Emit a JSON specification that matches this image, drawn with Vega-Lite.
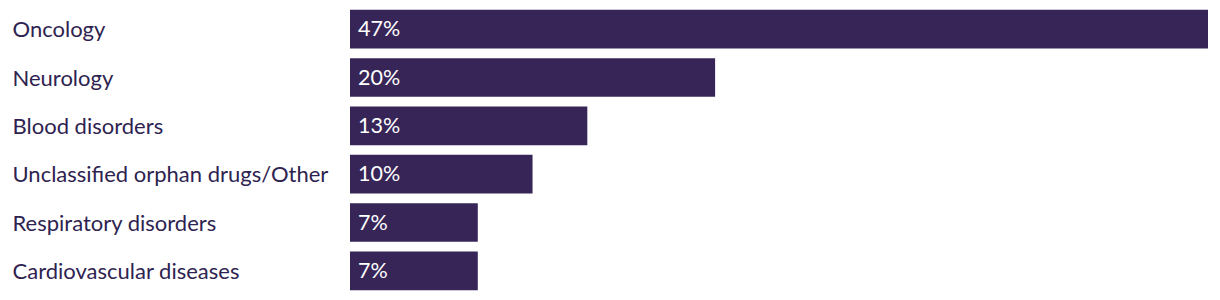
{
  "$schema": "https://vega.github.io/schema/vega-lite/v6.json",
  "autosize": "none",
  "width": 858,
  "height": 290,
  "padding": {"left": 350, "top": 5, "right": 12, "bottom": 5},
  "background": "white",
  "config": {"view": {"stroke": null}, "font": "Lato"},
  "data": {"values": [
    {"area": "Oncology", "pct": 47, "label": "47%"},
    {"area": "Neurology", "pct": 20, "label": "20%"},
    {"area": "Blood disorders", "pct": 13, "label": "13%"},
    {"area": "Unclassified orphan drugs/Other", "pct": 10, "label": "10%"},
    {"area": "Respiratory disorders", "pct": 7, "label": "7%"},
    {"area": "Cardiovascular diseases", "pct": 7, "label": "7%"}
  ]},
  "encoding": {
    "y": {"field": "area", "type": "nominal", "sort": null,
      "scale": {"paddingInner": 0.2, "paddingOuter": 0.1},
      "axis": {"title": null, "ticks": false, "domain": false, "labelAlign": "left", "labelPadding": 338, "labelFontSize": 22, "labelColor": "#2e2350", "labelLimit": 400, "labelFont": "Lato", "labelOffset": 1}},
    "x": {"field": "pct", "type": "quantitative", "scale": {"domain": [0, 47], "nice": false}, "axis": null}
  },
  "layer": [
    {"mark": {"type": "bar", "color": "#372558"}},
    {"mark": {"type": "text", "align": "left", "dx": 8, "dy": 1, "color": "white", "fontSize": 21.5, "font": "Lato"},
     "encoding": {"x": {"datum": 0}, "text": {"field": "label", "type": "nominal"}}}
  ]
}
